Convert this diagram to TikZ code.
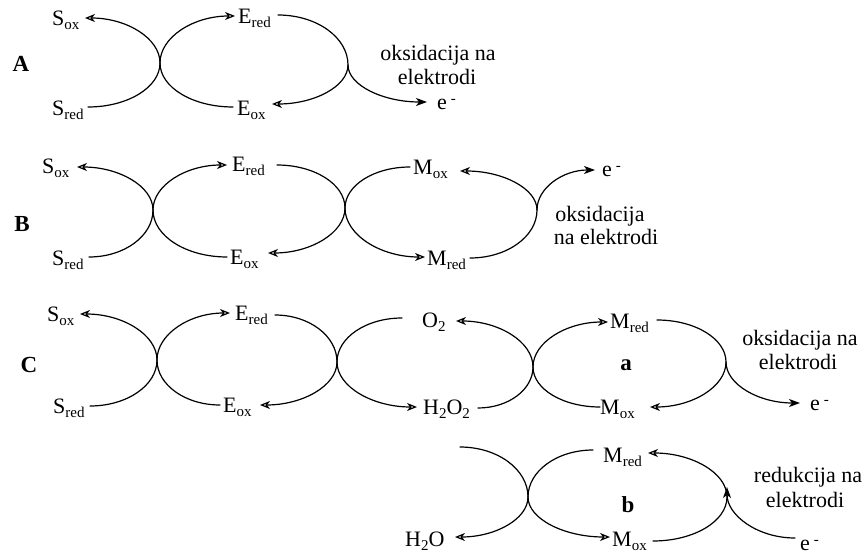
\documentclass[tikz,border=0pt]{standalone}
\usepackage{fontspec}
\setmainfont{Liberation Serif}
\usetikzlibrary{arrows.meta,calc}
\newcommand{\sbx}[1]{\raisebox{-4pt}{\fontsize{15}{15}\selectfont #1}}
\newcommand{\elec}{e\hspace{4pt}\raisebox{6pt}{\fontsize{15}{15}\selectfont -}}
\newcommand{\kk}{0.5523}
% start (horizontal tangent) -> cross (vertical tangent) -> end (horizontal tangent)
\newcommand{\twoarc}[4]{\draw[#1] let \p1=(#2), \p2=(#3), \p3=(#4) in (\p1) .. controls ({\x1+\kk*(\x2-\x1)},{\y1}) and ({\x2},{\y2+\kk*(\y1-\y2)}) .. (\p2) .. controls ({\x2},{\y2+\kk*(\y3-\y2)}) and ({\x3+\kk*(\x2-\x3)},{\y3}) .. (\p3);}
% start (vertical tangent) -> end (horizontal tangent)
\newcommand{\vharc}[3]{\draw[#1] let \p1=(#2), \p2=(#3) in (\p1) .. controls ({\x1},{\y1+\kk*(\y2-\y1)}) and ({\x2+\kk*(\x1-\x2)},{\y2}) .. (\p2);}
% start (horizontal tangent) -> end (vertical tangent)
\newcommand{\hvarc}[3]{\draw[#1] let \p1=(#2), \p2=(#3) in (\p1) .. controls ({\x1+\kk*(\x2-\x1)},{\y1}) and ({\x2},{\y2+\kk*(\y1-\y2)}) .. (\p2);}
\begin{document}
\begin{tikzpicture}[x=1pt,y=-1pt,
  lbl/.style={inner sep=0pt, anchor=base west, font=\fontsize{22}{24}\selectfont},
  note/.style={inner sep=0pt, anchor=base, font=\fontsize{22}{24}\selectfont},
  tag/.style={inner sep=0pt, anchor=base, font=\fontsize{23}{25}\selectfont\bfseries},
  cyc/.style={line width=1.2pt, line cap=round},
  oarr/.style={cyc, -{Stealth[open,length=10pt,width=8pt,inset=3pt]}},
  farr/.style={cyc, -{Stealth[length=11pt,width=8pt,inset=3pt]}}]
\useasboundingbox (0,0) rectangle (867,556);

% ---------------- Row A ----------------
\node[tag] (tA) at (21,72) {A};
\node[lbl] (aSox) at (52,26) {S\sbx{ox}};
\node[lbl] (aSred) at (52,116) {S\sbx{red}};
\node[lbl] (aEred) at (238,24) {E\sbx{red}};
\node[lbl] (aEox) at (237,116) {E\sbx{ox}};
\node[lbl] (aE) at (437,110) {\elec};
\node[note] (aN1) at (438,61) {oksidacija na};
\node[note] (aN2) at (437,85) {elektrodi};
\coordinate (a1) at (88,107);
\coordinate (x1) at (160,63);
\coordinate (a2) at (85,18);
\coordinate (a3) at (233,107);
\coordinate (a4) at (235,16);
\coordinate (a5) at (278,15);
\coordinate (x2) at (348,65);
\coordinate (a6) at (272,104);
\coordinate (a7) at (427,102);
\twoarc{oarr}{a1}{x1}{a2}
\twoarc{oarr}{a3}{x1}{a4}
\twoarc{oarr}{a5}{x2}{a6}
\vharc{farr}{x2}{a7}

% ---------------- Row B ----------------
\node[tag] (tB) at (22,232) {B};
\node[lbl] (bSox) at (42,174) {S\sbx{ox}};
\node[lbl] (bSred) at (52,265) {S\sbx{red}};
\node[lbl] (bEred) at (232,172) {E\sbx{red}};
\node[lbl] (bEox) at (230,264) {E\sbx{ox}};
\node[lbl] (bMox) at (413,175) {M\sbx{ox}};
\node[lbl] (bMred) at (427,265) {M\sbx{red}};
\node[lbl] (bE) at (602,177) {\elec};
\node[note] (bN1) at (600,222) {oksidacija};
\node[note] (bN2) at (606,244) {na elektrodi};
\coordinate (b1) at (89,257);
\coordinate (y1) at (153,210);
\coordinate (b2) at (77,167);
\coordinate (b3) at (227,257);
\coordinate (b4) at (227,165);
\coordinate (b5) at (277,165);
\coordinate (y2) at (345,208);
\coordinate (b6) at (268,253);
\coordinate (b7) at (410,167);
\coordinate (b8) at (425,257);
\coordinate (b9) at (470,258);
\coordinate (y3) at (537,210);
\coordinate (b10) at (460,171);
\coordinate (b11) at (595,170);
\twoarc{oarr}{b1}{y1}{b2}
\twoarc{oarr}{b3}{y1}{b4}
\twoarc{oarr}{b5}{y2}{b6}
\twoarc{oarr}{b7}{y2}{b8}
\twoarc{oarr}{b9}{y3}{b10}
\vharc{farr}{y3}{b11}

% ---------------- Row C ----------------
\node[tag] (tC) at (29,372) {C};
\node[lbl] (cSox) at (47,321) {S\sbx{ox}};
\node[lbl] (cSred) at (53,413) {S\sbx{red}};
\node[lbl] (cEred) at (235,320) {E\sbx{red}};
\node[lbl] (cEox) at (223,412) {E\sbx{ox}};
\node[lbl] (cO2) at (422,327) {O\sbx{2}};
\node[lbl] (cH2O2) at (423,414) {H\sbx{2}O\sbx{2}};
\node[lbl] (cMred) at (610,328) {M\sbx{red}};
\node[lbl] (cMox) at (600,414) {M\sbx{ox}};
\node[tag] (ta) at (626,370) {a};
\node[lbl] (cE) at (810,410) {\elec};
\node[note] (cN1) at (800,345) {oksidacija na};
\node[note] (cN2) at (798,369) {elektrodi};
\coordinate (c1) at (90,406);
\coordinate (z1) at (157,360);
\coordinate (c2) at (80,314);
\coordinate (c3) at (220,405);
\coordinate (c4) at (230,313);
\coordinate (c5) at (275,315);
\coordinate (z2) at (337,362);
\coordinate (c6) at (260,405);
\coordinate (c7) at (402,318);
\coordinate (c8) at (417,407);
\coordinate (c9) at (478,408);
\coordinate (z3) at (533,367);
\coordinate (c10) at (456,321);
\coordinate (c11) at (600,407);
\coordinate (c12) at (608,322);
\coordinate (c13) at (657,320);
\coordinate (z4) at (726,362);
\coordinate (c14) at (650,407);
\coordinate (c15) at (800,403);
\twoarc{oarr}{c1}{z1}{c2}
\twoarc{oarr}{c3}{z1}{c4}
\twoarc{oarr}{c5}{z2}{c6}
\twoarc{oarr}{c7}{z2}{c8}
\twoarc{oarr}{c9}{z3}{c10}
\twoarc{oarr}{c11}{z3}{c12}
\twoarc{oarr}{c13}{z4}{c14}
\vharc{farr}{z4}{c15}

% ---------------- Row b ----------------
\node[lbl] (dH2O) at (405,546) {H\sbx{2}O};
\node[lbl] (dMred) at (603,462) {M\sbx{red}};
\node[lbl] (dMox) at (612,546) {M\sbx{ox}};
\node[tag] (tb) at (628,512) {b};
\node[lbl] (dE) at (800,550) {\elec};
\node[note] (dN1) at (808,482) {redukcija na};
\node[note] (dN2) at (805,507) {elektrodi};
\coordinate (d1) at (460,447);
\coordinate (w1) at (528,497);
\coordinate (d2) at (455,537);
\coordinate (d3) at (593,450);
\coordinate (d4) at (610,537);
\coordinate (d5) at (653,541);
\coordinate (w2) at (727,497);
\coordinate (d6) at (648,453);
\coordinate (d7) at (795,538);
\coordinate (d8) at (727,487);
\twoarc{oarr}{d1}{w1}{d2}
\twoarc{oarr}{d3}{w1}{d4}
\twoarc{oarr}{d5}{w2}{d6}
\hvarc{farr}{d7}{d8}
\end{tikzpicture}
\end{document}
